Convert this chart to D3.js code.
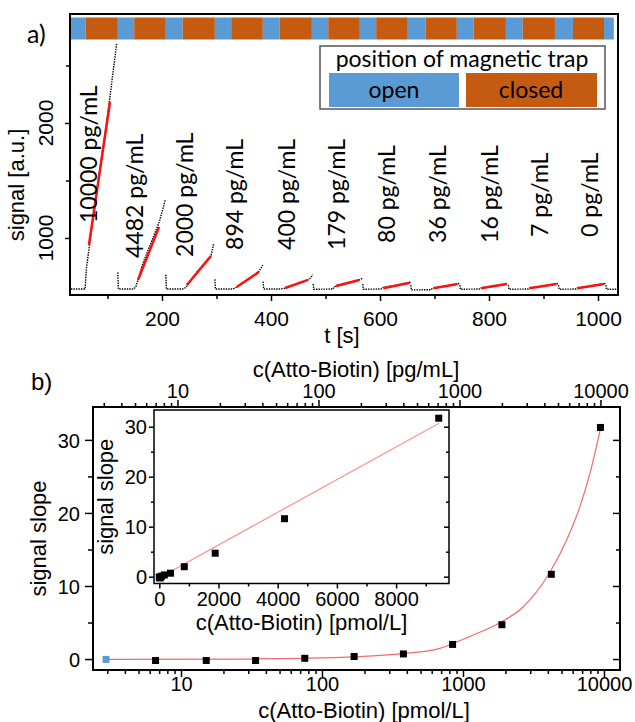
<!DOCTYPE html>
<html>
<head>
<meta charset="utf-8">
<script src="https://cdn.jsdelivr.net/npm/d3@7"></script>
<style>
  body { margin: 0; background: #fff; }
  svg text { font-family: "Liberation Sans", Arial, sans-serif; fill: #000; }
  svg text.cal { font-family: Lato, "Liberation Sans", sans-serif; }
</style>
</head>
<body>
<svg width="635" height="722"></svg>
<script>
// ---- panel a: magnetic trap timing (s) ----
var openStart = [33, 119, 207, 297, 385, 475, 563, 651, 741, 831, 921, 1011];
var openEnd   = [60, 149, 238, 327, 416, 505, 593, 684, 772, 862, 954, 1029];

// concentration labels and where they sit (t [s], signal)
var concLabels = ["10000 pg/mL", "4482 pg/mL", "2000 pg/mL", "894 pg/mL", "400 pg/mL",
                  "179 pg/mL", "80 pg/mL", "36 pg/mL", "16 pg/mL", "7 pg/mL", "0 pg/mL"];
var labelT = [80.7, 165, 257, 348.6, 444, 535.8, 628.4, 720.6, 815.8, 908.3, 1000];
var labelS = [1130, 826, 835, 896, 896, 896, 957, 957, 957, 1009, 1009];

// raw signal traces, one per cycle
var traceT = [
  [33, 59, 61, 70, 85, 100, 117],
  [119, 120, 148, 152, 165, 180, 195, 206],
  [207, 208, 238, 244, 260, 280, 290, 295],
  [297, 298, 330, 335, 360, 378, 385],
  [385.5, 386.5, 416, 425, 450, 470, 477],
  [477.5, 478.5, 514, 516, 540, 562, 568],
  [568.5, 569.5, 602, 604, 630, 650, 656],
  [656.5, 657.5, 694, 696, 720, 742, 746],
  [746.5, 747.5, 782, 784, 810, 832, 835],
  [835.5, 836.5, 872, 874, 900, 924, 927],
  [927.5, 928.5, 960, 962, 990, 1011, 1014],
  [1014.5, 1015.5, 1037]
];
var traceS = [
  [556, 556, 720, 1050, 1560, 2060, 2696],
  [700, 556, 556, 575, 780, 960, 1140, 1330],
  [680, 556, 556, 570, 680, 795, 850, 950],
  [640, 556, 556, 568, 645, 710, 765],
  [620, 556, 556, 562, 605, 640, 680],
  [600, 554, 556, 576, 605, 635, 650],
  [600, 554, 556, 568, 590, 608, 615],
  [590, 548, 550, 563, 582, 600, 606],
  [590, 554, 556, 565, 583, 600, 606],
  [590, 554, 556, 565, 582, 600, 606],
  [590, 554, 556, 565, 585, 600, 606],
  [590, 554, 554]
];

// linear fits (red)
var fitT0 = [66, 156, 245.6, 337, 426, 519, 606, 698, 785, 874, 962];
var fitS0 = [939, 635, 591, 574, 565, 583, 563, 563, 563, 563, 563];
var fitT1 = [104.6, 194.5, 290, 378, 468, 562, 655, 742.5, 832.5, 924, 1011];
var fitS1 = [2183, 1096, 843, 704, 635, 635, 611, 600, 600, 600, 600];

var tTicks = [200, 400, 600, 800, 1000];
var tMinor = [100, 300, 500, 700, 900];
var sigTicks = [1000, 2000];
var sigMinor = [1500, 2500];

// ---- panel b: calibration ----
var concPg   = [0, 7, 16, 36, 80, 179, 400, 894, 2000, 4482, 10000];
var concPmol = [0, 6.6, 15.1, 33.8, 75.5, 169, 378, 844, 1888, 4231, 9440];
var slope    = [-0.05, -0.2, -0.2, -0.2, 0.1, 0.35, 0.7, 2.0, 4.7, 11.6, 31.7];
var zeroPlotC = 2.94;   // where the blank is drawn on the log axis

var curveC = [2.94, 30, 75.5, 169, 378, 687, 841, 1183, 1828, 2680, 4094, 5435, 6760, 7946, 9440];
var curveS = [-0.05, 0.0, 0.1, 0.3, 0.75, 1.47, 2.1, 3.29, 4.97, 7.16, 11.74, 16.3, 20.9, 25.4, 31.5];

var insetFitC = [-90, 9450];
var insetFitS = [-0.5, 30.7];

var logTicks = [10, 100, 1000, 10000];
var slopeTicks = [0, 10, 20, 30];
var slopeMinor = [5, 15, 25];
var insetXTicks = [0, 2000, 4000, 6000, 8000];
var insetXMinor = [1000, 3000, 5000, 7000, 9000];

var BLUE = "#5b9bd5", ORANGE = "#c55a11";

function clean(g, size) {
    g.attr("font-size", null).attr("font-family", null);
    g.select(".domain").remove();
    g.selectAll("line").attr("stroke", "#000").attr("stroke-width", 1.5);
    g.selectAll("text").attr("font-size", size + "px").attr("fill", "#000");
    return g;
}

function main() {
    var svg = d3.select("svg");

    // ================= panel a =================
    var ax = d3.scaleLinear().domain([31.2, 1036.7]).range([70, 618]);
    var ay = d3.scaleLinear().domain([504, 2948]).range([295, 14]);

    var strip = svg.append("g");
    openStart.forEach(function(s, i) {
        strip.append("rect")
            .attr("x", ax(s)).attr("y", 17.5)
            .attr("width", ax(openEnd[i]) - ax(s)).attr("height", 22)
            .attr("fill", BLUE);
        if (i < openStart.length - 1) {
            strip.append("rect")
                .attr("x", ax(openEnd[i])).attr("y", 17.5)
                .attr("width", ax(openStart[i + 1]) - ax(openEnd[i])).attr("height", 22)
                .attr("fill", ORANGE);
        }
    });

    var line = d3.line().x(function(d) { return ax(d[0]); }).y(function(d) { return ay(d[1]); });
    traceT.forEach(function(ts, k) {
        var pts = ts.map(function(t, j) { return [t, traceS[k][j]]; });
        svg.append("path")
            .attr("d", line(pts))
            .attr("fill", "none")
            .attr("stroke", "#000")
            .attr("stroke-width", 1.4)
            .attr("stroke-dasharray", "1.4 1.1");
    });

    fitT0.forEach(function(t, i) {
        svg.append("line")
            .attr("x1", ax(t)).attr("y1", ay(fitS0[i]))
            .attr("x2", ax(fitT1[i])).attr("y2", ay(fitS1[i]))
            .attr("stroke", "#ff1010").attr("stroke-width", 2.5);
    });

    concLabels.forEach(function(txt, i) {
        svg.append("text")
            .attr("class", "cal")
            .attr("transform", "translate(" + ax(labelT[i]) + "," + ay(labelS[i]) + ") rotate(-90)")
            .attr("font-size", "23px")
            .text(txt);
    });

    // legend
    svg.append("rect").attr("x", 320).attr("y", 46).attr("width", 285).attr("height", 63)
        .attr("fill", "#fff").attr("stroke", "#555").attr("stroke-width", 1.5);
    svg.append("text").attr("class", "cal").attr("x", 462).attr("y", 67)
        .attr("text-anchor", "middle").attr("font-size", "23px").text("position of magnetic trap");
    svg.append("rect").attr("x", 329).attr("y", 73).attr("width", 130).attr("height", 34).attr("fill", BLUE);
    svg.append("rect").attr("x", 466).attr("y", 73).attr("width", 131).attr("height", 34).attr("fill", ORANGE);
    svg.append("text").attr("class", "cal").attr("x", 394).attr("y", 98)
        .attr("text-anchor", "middle").attr("font-size", "23px").text("open");
    svg.append("text").attr("class", "cal").attr("x", 531).attr("y", 98)
        .attr("text-anchor", "middle").attr("font-size", "23px").text("closed");

    // axes a
    var gx = svg.append("g").attr("transform", "translate(0,295)")
        .call(d3.axisBottom(ax).tickValues(tTicks).tickSize(6).tickFormat(d3.format("d")));
    clean(gx, 21).selectAll("text").attr("y", 31).attr("dy", 0);
    clean(svg.append("g").attr("transform", "translate(0,295)")
        .call(d3.axisBottom(ax).tickValues(tMinor).tickSize(4).tickFormat("")), 21);

    clean(svg.append("g").attr("transform", "translate(70,0)")
        .call(d3.axisLeft(ay).tickValues(sigTicks).tickSize(5).tickFormat("")), 21);
    clean(svg.append("g").attr("transform", "translate(70,0)")
        .call(d3.axisLeft(ay).tickValues(sigMinor).tickSize(4).tickFormat("")), 21);
    sigTicks.forEach(function(v) {
        svg.append("text")
            .attr("transform", "translate(53," + ay(v) + ") rotate(-90)")
            .attr("text-anchor", "middle").attr("font-size", "21px").text(v);
    });

    svg.append("rect").attr("x", 70).attr("y", 14).attr("width", 548).attr("height", 281)
        .attr("fill", "none").attr("stroke", "#000").attr("stroke-width", 2);

    svg.append("text").attr("transform", "translate(24,185) rotate(-90)")
        .attr("text-anchor", "middle").attr("font-size", "22px").text("signal [a.u.]");
    svg.append("text").attr("x", 342).attr("y", 343)
        .attr("text-anchor", "middle").attr("font-size", "22px").text("t [s]");
    svg.append("text").attr("class", "cal").attr("x", 27).attr("y", 43)
        .attr("font-size", "25px").text("a)");

    // ================= panel b =================
    var pgToPmol = concPmol[10] / concPg[10];
    var bx = d3.scaleLog().domain([2.376, 12990]).range([93, 620]);
    var bxTop = d3.scaleLog().domain([2.376 / pgToPmol, 12990 / pgToPmol]).range([93, 620]);
    var by = d3.scaleLinear().domain([-1.5, 34.5]).range([670, 407]);

    function logMinor(sc) {
        var dom = sc.domain(), out = [];
        [1, 10, 100, 1000, 10000].forEach(function(dec) {
            for (var m = 2; m <= 9; m++) {
                var v = dec * m;
                if (v >= dom[0] && v <= dom[1]) out.push(v);
            }
        });
        return out;
    }

    var gb = svg.append("g").attr("transform", "translate(0,670)")
        .call(d3.axisBottom(bx).tickValues(logTicks).tickSize(7).tickFormat(d3.format("d")));
    clean(gb, 20).selectAll("text").attr("y", 21).attr("dy", 0);
    clean(svg.append("g").attr("transform", "translate(0,670)")
        .call(d3.axisBottom(bx).tickValues(logMinor(bx)).tickSize(4).tickFormat("")), 20);

    var gt = svg.append("g").attr("transform", "translate(0,407)")
        .call(d3.axisTop(bxTop).tickValues(logTicks).tickSize(7).tickFormat(d3.format("d")));
    clean(gt, 20).selectAll("text").attr("y", -9).attr("dy", 0);
    clean(svg.append("g").attr("transform", "translate(0,407)")
        .call(d3.axisTop(bxTop).tickValues(logMinor(bxTop)).tickSize(4).tickFormat("")), 20);

    var gl = svg.append("g").attr("transform", "translate(93,0)")
        .call(d3.axisLeft(by).tickValues(slopeTicks).tickSize(8).tickFormat(d3.format("d")));
    clean(gl, 20).selectAll("text").attr("x", -13).attr("dy", "0.36em");
    clean(svg.append("g").attr("transform", "translate(93,0)")
        .call(d3.axisLeft(by).tickValues(slopeMinor).tickSize(5).tickFormat("")), 20);
    clean(svg.append("g").attr("transform", "translate(620,0)")
        .call(d3.axisLeft(by).tickValues(slopeTicks).tickSize(7).tickFormat("")), 20);
    clean(svg.append("g").attr("transform", "translate(620,0)")
        .call(d3.axisLeft(by).tickValues(slopeMinor).tickSize(4).tickFormat("")), 20);

    // fit curve
    var cpts = curveC.map(function(c, i) { return [c, curveS[i]]; });
    svg.append("path")
        .attr("d", d3.line().curve(d3.curveMonotoneX)
            .x(function(d) { return bx(d[0]); }).y(function(d) { return by(d[1]); })(cpts))
        .attr("fill", "none").attr("stroke", "#f26b6b").attr("stroke-width", 1.2);

    concPmol.forEach(function(c, i) {
        var cx = bx(c === 0 ? zeroPlotC : c);
        svg.append("rect")
            .attr("x", cx - 3.5).attr("y", by(slope[i]) - 3.5)
            .attr("width", 7).attr("height", 7)
            .attr("fill", c === 0 ? BLUE : "#000");
    });

    svg.append("rect").attr("x", 93).attr("y", 407).attr("width", 527).attr("height", 263)
        .attr("fill", "none").attr("stroke", "#000").attr("stroke-width", 2);

    svg.append("text").attr("transform", "translate(46,538.5) rotate(-90)")
        .attr("text-anchor", "middle").attr("font-size", "22px").text("signal slope");
    svg.append("text").attr("x", 364).attr("y", 718)
        .attr("text-anchor", "middle").attr("font-size", "22px").text("c(Atto-Biotin) [pmol/L]");
    svg.append("text").attr("x", 356).attr("y", 377)
        .attr("text-anchor", "middle").attr("font-size", "22px").text("c(Atto-Biotin) [pg/mL]");
    svg.append("text").attr("x", 31).attr("y", 390).attr("font-size", "24px").text("b)");

    // ---- inset ----
    var ix = d3.scaleLinear().domain([-179, 9787]).range([154, 449]);
    var iy = d3.scaleLinear().domain([-1.36, 33.34]).range([583.5, 410]);

    svg.append("rect").attr("x", 154).attr("y", 410).attr("width", 295).attr("height", 173.5)
        .attr("fill", "#fff");

    var gix = svg.append("g").attr("transform", "translate(0,583.5)")
        .call(d3.axisBottom(ix).tickValues(insetXTicks).tickSize(5).tickFormat(d3.format("d")));
    clean(gix, 20).selectAll("text").attr("y", 22.5).attr("dy", 0);
    clean(svg.append("g").attr("transform", "translate(0,583.5)")
        .call(d3.axisBottom(ix).tickValues(insetXMinor).tickSize(3).tickFormat("")), 20);
    var giy = svg.append("g").attr("transform", "translate(154,0)")
        .call(d3.axisLeft(iy).tickValues(slopeTicks).tickSize(5).tickFormat(d3.format("d")));
    clean(giy, 20).selectAll("text").attr("x", -7).attr("dy", "0.36em");
    clean(svg.append("g").attr("transform", "translate(154,0)")
        .call(d3.axisLeft(iy).tickValues(slopeMinor).tickSize(3).tickFormat("")), 20);
    clean(svg.append("g").attr("transform", "translate(449,0)")
        .call(d3.axisLeft(iy).tickValues(slopeTicks).tickSize(5).tickFormat("")), 20);
    clean(svg.append("g").attr("transform", "translate(449,0)")
        .call(d3.axisLeft(iy).tickValues(slopeMinor).tickSize(3).tickFormat("")), 20);

    svg.append("line")
        .attr("x1", ix(insetFitC[0])).attr("y1", iy(insetFitS[0]))
        .attr("x2", ix(insetFitC[1])).attr("y2", iy(insetFitS[1]))
        .attr("stroke", "#ff9090").attr("stroke-width", 1.2);

    concPmol.forEach(function(c, i) {
        svg.append("rect")
            .attr("x", ix(c) - 3.5).attr("y", iy(slope[i]) - 3.5)
            .attr("width", 7).attr("height", 7)
            .attr("fill", "#000");
    });

    svg.append("rect").attr("x", 154).attr("y", 410).attr("width", 295).attr("height", 173.5)
        .attr("fill", "none").attr("stroke", "#000").attr("stroke-width", 1.5);

    svg.append("text").attr("transform", "translate(113,496.75) rotate(-90)")
        .attr("text-anchor", "middle").attr("font-size", "22px").text("signal slope");
    svg.append("text").attr("x", 301.5).attr("y", 630)
        .attr("text-anchor", "middle").attr("font-size", "22px").text("c(Atto-Biotin) [pmol/L]");
}

main();
</script>
</body>
</html>
